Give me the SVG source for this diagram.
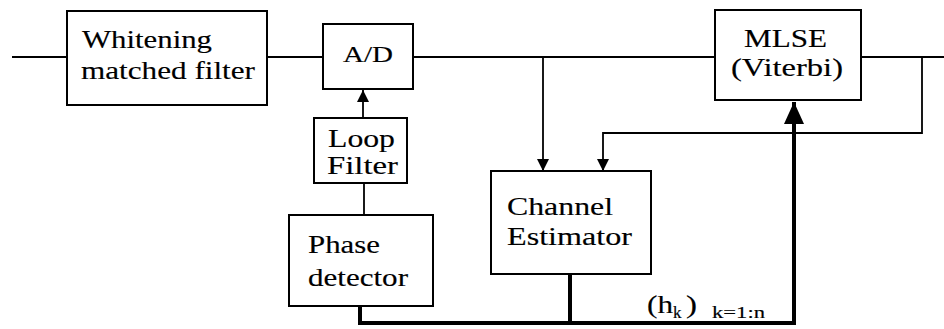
<svg xmlns="http://www.w3.org/2000/svg" width="944" height="329" viewBox="0 0 944 329">
  <defs>
    <style>
      .box { fill: #fff; stroke: #000; stroke-width: 2; }
      .wire { fill: none; stroke: #000; stroke-width: 1.8; }
      .bus { fill: none; stroke: #000; stroke-width: 4; }
      text { font-family: "Liberation Serif", "Times New Roman", serif; fill: #000; stroke: #000; stroke-width: 0.15; }
      .lbl { font-size: 26px; }
    </style>
    <marker id="arr" markerUnits="userSpaceOnUse" markerWidth="14" markerHeight="12" refX="12" refY="6" orient="auto">
      <path d="M0,0 L12,6 L0,12 Z" fill="#000"/>
    </marker>
    <marker id="arrBig" markerUnits="userSpaceOnUse" markerWidth="24" markerHeight="20" refX="22" refY="10" orient="auto">
      <path d="M0,0 L22,10 L0,20 Z" fill="#000"/>
    </marker>
  </defs>

  <g id="connectors">
    <!-- signal path along the top -->
    <line class="wire" x1="12" y1="57" x2="67" y2="57"/>
    <line class="wire" x1="267" y1="57" x2="323" y2="57"/>
    <line class="wire" x1="413" y1="57" x2="715" y2="57"/>
    <line class="wire" x1="861" y1="57" x2="944" y2="57"/>
    <!-- tap into the channel estimator -->
    <line class="wire" x1="543" y1="57" x2="543" y2="171" marker-end="url(#arr)"/>
    <!-- decision feedback from the MLSE output -->
    <polyline class="wire" points="922,57 922,133 603,133 603,171" marker-end="url(#arr)"/>
    <!-- timing loop -->
    <line class="wire" x1="364" y1="215" x2="364" y2="183"/>
    <line class="wire" x1="363" y1="118" x2="363" y2="90" marker-end="url(#arr)"/>
    <!-- channel estimate bus -->
    <polyline class="bus" points="360,306 360,323 794,323 794,102" marker-end="url(#arrBig)"/>
    <line class="bus" x1="570" y1="274" x2="570" y2="323"/>
  </g>

  <g id="whitening-filter">
    <rect class="box" x="67" y="11" width="200" height="94"/>
    <text class="lbl" x="82" y="48" textLength="130" lengthAdjust="spacingAndGlyphs">Whitening</text>
    <text class="lbl" x="81" y="79" textLength="174" lengthAdjust="spacingAndGlyphs">matched filter</text>
  </g>

  <g id="ad-converter">
    <rect class="box" x="323" y="24" width="90" height="65"/>
    <text x="343" y="62" font-size="24" textLength="50" lengthAdjust="spacingAndGlyphs">A/D</text>
  </g>

  <g id="loop-filter">
    <rect class="box" x="314" y="118" width="93" height="65"/>
    <text class="lbl" x="328" y="147" textLength="67" lengthAdjust="spacingAndGlyphs">Loop</text>
    <text class="lbl" x="327" y="174" textLength="71" lengthAdjust="spacingAndGlyphs">Filter</text>
  </g>

  <g id="phase-detector">
    <rect class="box" x="289" y="215" width="144" height="91"/>
    <text class="lbl" x="308" y="253" textLength="72" lengthAdjust="spacingAndGlyphs">Phase</text>
    <text class="lbl" x="308" y="286" textLength="100" lengthAdjust="spacingAndGlyphs">detector</text>
  </g>

  <g id="channel-estimator">
    <rect class="box" x="491" y="171" width="160" height="103"/>
    <text class="lbl" x="507" y="215" textLength="106" lengthAdjust="spacingAndGlyphs">Channel</text>
    <text class="lbl" x="507" y="245" textLength="125" lengthAdjust="spacingAndGlyphs">Estimator</text>
  </g>

  <g id="mlse">
    <rect class="box" x="715" y="10" width="146" height="90"/>
    <text class="lbl" x="744" y="47" textLength="83" lengthAdjust="spacingAndGlyphs">MLSE</text>
    <text class="lbl" x="731" y="76" textLength="112" lengthAdjust="spacingAndGlyphs">(Viterbi)</text>
  </g>

  <g id="bus-label">
    <text x="647" y="313" font-size="26" textLength="26" lengthAdjust="spacingAndGlyphs">(h</text>
    <text x="673" y="318" font-size="17">k</text>
    <text x="686" y="313" font-size="26" textLength="11" lengthAdjust="spacingAndGlyphs">)</text>
    <text x="712" y="318" font-size="17" textLength="53" lengthAdjust="spacingAndGlyphs">k=1:n</text>
  </g>
</svg>
